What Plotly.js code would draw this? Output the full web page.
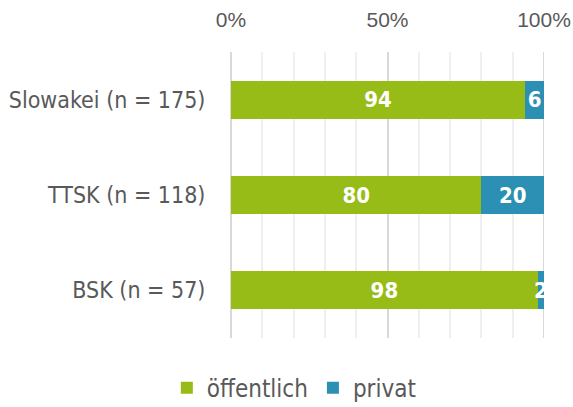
<!DOCTYPE html>
<html>
<head>
<meta charset="utf-8">
<script src="https://cdn.plot.ly/plotly-3.0.1.min.js"></script>
<style>html,body{margin:0;padding:0;background:#fff;}#chart{width:573px;height:407px;}</style>
</head>
<body>
<div id="chart"></div>
<script>
const categories = ["Slowakei (n = 175)", "TTSK (n = 118)", "BSK (n = 57)"];
const oeffentlich = [94, 80, 98];
const privat = [6, 20, 2];
const seriesNames = ["öffentlich", "privat"];
const tickVals = [0, 50, 100];
const tickLabels = ["0%", "50%", "100%"];

const FONT = "DejaVu Sans Condensed, DejaVu Sans, sans-serif";
const TICKFONT = "Liberation Sans, Arial, sans-serif";
const common = {
  type: "bar", orientation: "h", y: categories, width: 0.4,
  textposition: "inside", insidetextanchor: "middle", constraintext: "none",
  textfont: {family: FONT, size: 22, color: "#ffffff", weight: "bold"},
  hoverinfo: "none", cliponaxis: true
};
const traces = [
  Object.assign({}, common, {name: seriesNames[0], x: oeffentlich, text: oeffentlich.map(String), marker: {color: "#98BC17"}}),
  Object.assign({}, common, {name: seriesNames[1], x: privat, text: privat.map(String), marker: {color: "#2B90B4"}})
];
const layout = {
  width: 573, height: 407,
  margin: {l: 231, r: 29, t: 52, b: 69, autoexpand: false},
  barmode: "stack",
  paper_bgcolor: "#fff", plot_bgcolor: "#fff",
  font: {family: FONT, size: 22, color: "#595959"},
  xaxis: {
    side: "top", range: [0, 100], tickvals: tickVals, ticktext: tickLabels,
    showgrid: true, gridcolor: "#d9d9d9", gridwidth: 2,
    minor: {dtick: 10, showgrid: true, gridcolor: "#efefef", gridwidth: 2},
    zeroline: true, zerolinecolor: "#d9d9d9", zerolinewidth: 2,
    showline: false, fixedrange: true, automargin: false, ticklabeloverflow: "allow",
    ticks: "outside", ticklen: 16, tickcolor: "rgba(0,0,0,0)",
    tickfont: {family: TICKFONT, size: 21, color: "#595959"}
  },
  yaxis: {
    autorange: "reversed", showgrid: false, zeroline: false, showline: false, automargin: false,
    ticks: "outside", ticklen: 20, tickcolor: "rgba(0,0,0,0)",
    tickfont: {family: FONT, size: 23, color: "#595959"}
  },
  shapes: [{type: "line", xref: "x", yref: "paper", x0: 100, x1: 100, y0: 0, y1: 1,
            line: {color: "#d9d9d9", width: 2}, layer: "below"}],
  showlegend: true,
  legend: {
    orientation: "h", traceorder: "normal", x: -0.205, xanchor: "left",
    y: -0.175, yanchor: "middle", font: {family: FONT, size: 24, color: "#595959"},
    itemwidth: 30
  }
};
Plotly.newPlot("chart", traces, layout, {displayModeBar: false, staticPlot: true});
</script>
</body>
</html>
